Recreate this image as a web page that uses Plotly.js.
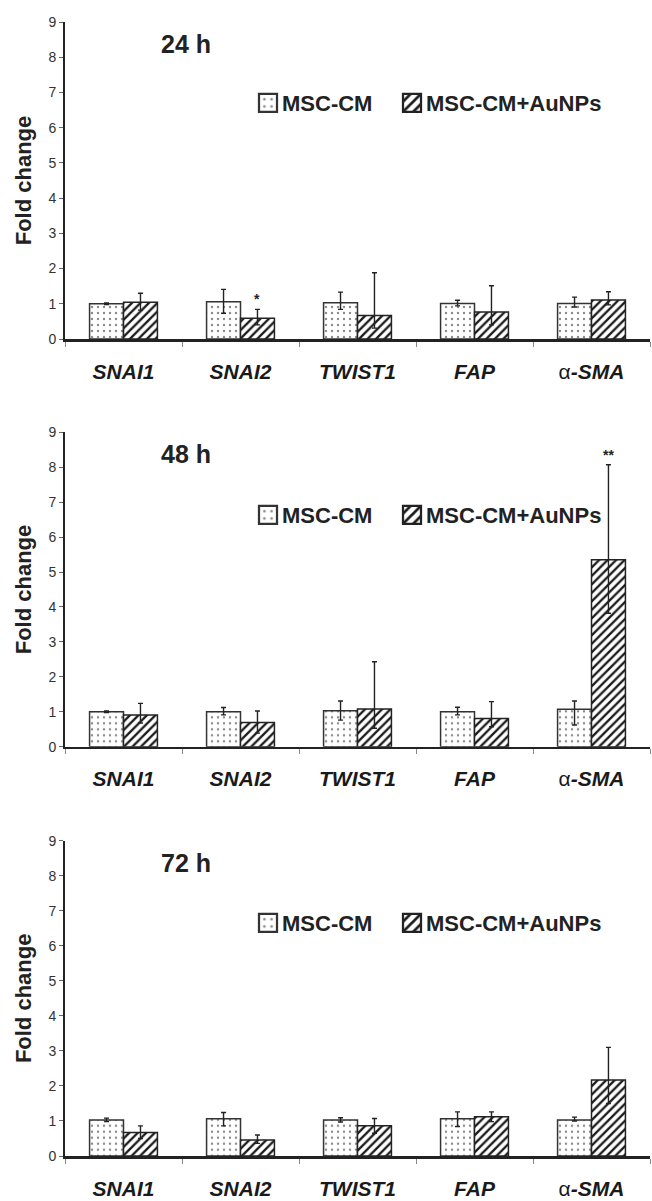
<!DOCTYPE html>
<html>
<head>
<meta charset="utf-8">
<script src="https://cdn.plot.ly/plotly-3.0.1.min.js"></script>
<style>
  html, body { margin: 0; padding: 0; background: #fff; }
  #chart { width: 652px; height: 1201px; }
</style>
</head>
<body>
<div id="chart"></div>
<script>
// ---- Data ----
const categories = ['SNAI1', 'SNAI2', 'TWIST1', 'FAP', 'α-SMA'];
const tickLabels = ['<b><i>SNAI1</i></b>', '<b><i>SNAI2</i></b>', '<b><i>TWIST1</i></b>', '<b><i>FAP</i></b>', 'α<b><i>-SMA</i></b>'];
const seriesNames = ['MSC-CM', 'MSC-CM+AuNPs'];
const panelTitles = ['24 h', '48 h', '72 h'];

// 24 h
const msc24 = [1.00, 1.06, 1.03, 1.01, 1.01];
const msc24Up = [0.02, 0.35, 0.30, 0.09, 0.18];
const msc24Down = [0.02, 0.33, 0.19, 0.07, 0.10];
const au24 = [1.04, 0.59, 0.67, 0.77, 1.11];
const au24Up = [0.26, 0.25, 1.21, 0.74, 0.23];
const au24Down = [0.22, 0.19, 0.36, 0.37, 0.14];

// 48 h
const msc48 = [1.00, 1.00, 1.03, 1.00, 1.07];
const msc48Up = [0.02, 0.12, 0.28, 0.13, 0.24];
const msc48Down = [0.02, 0.09, 0.27, 0.09, 0.45];
const au48 = [0.91, 0.69, 1.08, 0.81, 5.35];
const au48Up = [0.33, 0.33, 1.35, 0.48, 2.72];
const au48Down = [0.23, 0.30, 0.55, 0.24, 1.53];

// 72 h
const msc72 = [1.03, 1.06, 1.03, 1.06, 1.03];
const msc72Up = [0.05, 0.18, 0.06, 0.20, 0.08];
const msc72Down = [0.05, 0.20, 0.06, 0.22, 0.03];
const au72 = [0.67, 0.46, 0.86, 1.12, 2.17];
const au72Up = [0.19, 0.14, 0.21, 0.14, 0.93];
const au72Down = [0.17, 0.10, 0.21, 0.14, 0.67];

// significance marks: [panel index, category, label]
const sigMarks = [[0, 'SNAI2', '*'], [1, 'α-SMA', '**']];

// ---- Styling ----
const FONT = 'Liberation Sans, Arial, sans-serif';
const panels = [
  {msc: msc24, mscUp: msc24Up, mscDown: msc24Down, au: au24, auUp: au24Up, auDown: au24Down},
  {msc: msc48, mscUp: msc48Up, mscDown: msc48Down, au: au48, auUp: au48Up, auDown: au48Down},
  {msc: msc72, mscUp: msc72Up, mscDown: msc72Down, au: au72, auUp: au72Up, auDown: au72Down}
];
const H = 1201, W = 652, ML = 65, MR = 2;
const PW = W - ML - MR;
const pxDomains = [[22, 339], [432.3, 746.7], [840.7, 1156]];
const legendCenters = [103, 515, 923];
const legendLeftPx = [242, 386];

const traces = [];
const layout = {
  width: W, height: H,
  margin: {l: ML, r: MR, t: 0, b: 0},
  paper_bgcolor: '#fff', plot_bgcolor: '#fff',
  barmode: 'group', bargap: 0.42, bargroupgap: 0,
  font: {family: FONT, color: '#222'},
  showlegend: true,
  annotations: []
};

const errStyle = {color: '#222', thickness: 1.4, width: 2.5};
const mscMarker = {color: '#fff', line: {color: '#333', width: 1.5},
  pattern: {shape: '.', fgcolor: '#8a8a8a', bgcolor: '#fff', size: 6, solidity: 0.12}};
const auMarker = {color: '#fff', line: {color: '#222', width: 1.5},
  pattern: {shape: '/', fgcolor: '#1a1a1a', bgcolor: '#fff', size: 6, solidity: 0.38}};

let legendCount = 0;
function nextLegend(i, j) {
  legendCount++;
  const id = 'legend' + (legendCount === 1 ? '' : legendCount);
  layout[id] = {
    orientation: 'h', xref: 'paper', yref: 'paper',
    x: (legendLeftPx[j] - ML) / PW, xanchor: 'left',
    y: 1 - legendCenters[i] / H, yanchor: 'middle',
    font: {family: FONT, size: 22, color: '#222', weight: 'bold'},
    bgcolor: 'rgba(0,0,0,0)', borderwidth: 0
  };
  return id;
}

panels.forEach((p, i) => {
  const n = i === 0 ? '' : String(i + 1);
  const xa = 'x' + n, ya = 'y' + n;
  traces.push({
    type: 'bar', name: seriesNames[0], x: categories, y: p.msc,
    xaxis: xa, yaxis: ya, legend: nextLegend(i, 0),
    marker: mscMarker,
    error_y: Object.assign({type: 'data', symmetric: false, array: p.mscUp, arrayminus: p.mscDown, visible: true}, errStyle),
    hoverinfo: 'x+y'
  });
  traces.push({
    type: 'bar', name: seriesNames[1], x: categories, y: p.au,
    xaxis: xa, yaxis: ya, legend: nextLegend(i, 1),
    marker: auMarker,
    error_y: Object.assign({type: 'data', symmetric: false, array: p.auUp, arrayminus: p.auDown, visible: true}, errStyle),
    hoverinfo: 'x+y'
  });

  const d = pxDomains[i];
  layout['xaxis' + n] = {
    anchor: ya, domain: [0, 1],
    type: 'category', categoryorder: 'array', categoryarray: categories,
    tickvals: categories, ticktext: tickLabels,
    tickson: 'boundaries', ticks: 'outside', ticklen: 5, tickwidth: 1, tickcolor: '#888',
    ticklabelstandoff: 12,
    tickfont: {family: FONT, size: 21, color: '#1a1a1a'},
    showline: true, linecolor: '#222', linewidth: 2.5,
    showgrid: false, zeroline: false, fixedrange: true
  };
  layout['yaxis' + n] = {
    anchor: xa, domain: [1 - d[1] / H, 1 - d[0] / H],
    range: [0, 9], dtick: 1, tick0: 0,
    ticks: 'outside', ticklen: 4, tickwidth: 1, tickcolor: '#666',
    tickfont: {family: FONT, size: 14, color: '#333'},
    showline: true, linecolor: '#222', linewidth: 2,
    showgrid: false, zeroline: false, fixedrange: true,
    title: {text: '<b>Fold change</b>', font: {family: FONT, size: 22, color: '#222'}, standoff: 11}
  };
  layout.annotations.push({
    xref: xa + ' domain', yref: ya + ' domain',
    x: (186 - ML) / PW, y: 1 - 22 / (d[1] - d[0]),
    xanchor: 'center', yanchor: 'middle', showarrow: false,
    text: '<b>' + panelTitles[i] + '</b>',
    font: {family: FONT, size: 25, color: '#222'}
  });
});

// significance marks placed above the AuNPs bar error caps
sigMarks.forEach(([pi, cat, label]) => {
  const p = panels[pi];
  const k = categories.indexOf(cat);
  const n = pi === 0 ? '' : String(pi + 1);
  const groupFrac = 1 - layout.bargap;
  layout.annotations.push({
    xref: 'x' + n, yref: 'y' + n,
    x: k + groupFrac / 4, y: p.au[k] + p.auUp[k],
    xanchor: 'center', yanchor: 'bottom', showarrow: false,
    text: '<b>' + label + '</b>',
    font: {family: FONT, size: 14, color: '#222'}
  });
});

Plotly.newPlot('chart', traces, layout, {displayModeBar: false, staticPlot: true}).then(gd => {
  // enlarge legend swatches to match the reference's square boxes
  gd.querySelectorAll('.legendpoints path').forEach(el => {
    const t = el.getAttribute('transform') || '';
    el.setAttribute('transform', 'translate(6,0) ' + t + ' scale(1.5)');
  });
});
</script>
</body>
</html>
